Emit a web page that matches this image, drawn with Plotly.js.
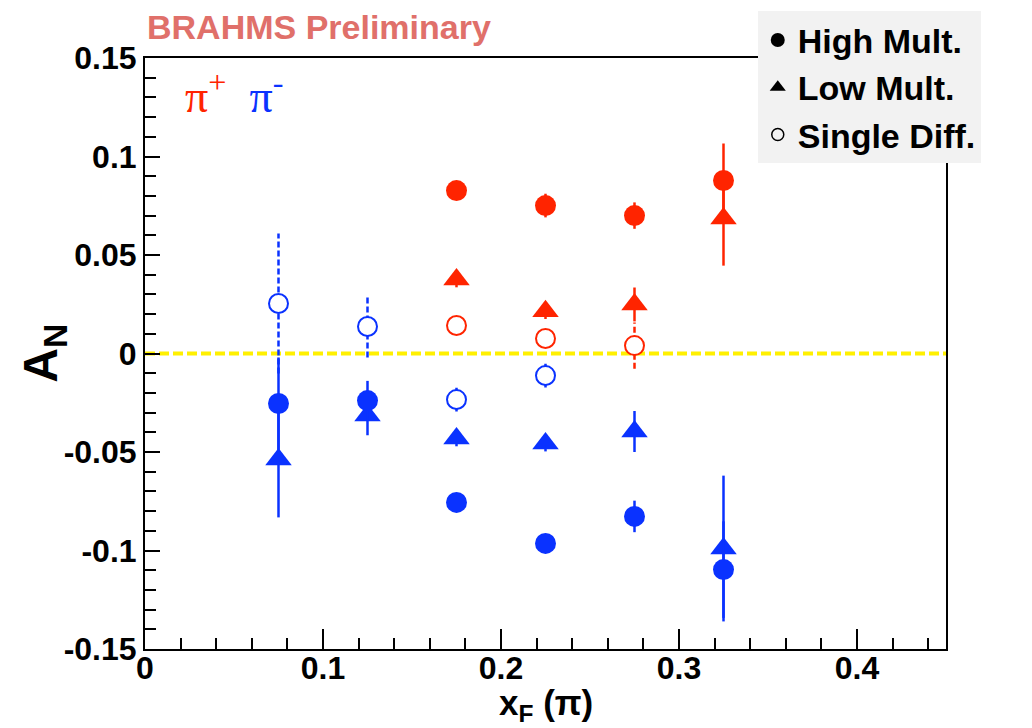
<!DOCTYPE html>
<html><head><meta charset="utf-8">
<script src="https://cdn.plot.ly/plotly-3.0.1.min.js"></script>
<style>html,body{margin:0;padding:0;background:#fff;} #chart{width:1032px;height:728px;}</style>
</head><body><div id="chart"></div>
<script>
// ---- data ----
const xF = [0.075, 0.125, 0.175, 0.225, 0.275, 0.325];

const piPlusHigh     = [null, null, 0.0827, 0.0751, 0.0700, 0.0878];
const piPlusHighErr  = [null, null, 0.004, 0.006, 0.0067, 0.0188];
const piPlusLow      = [null, null, 0.0376, 0.0215, 0.0249, 0.0685];
const piPlusLowErr   = [null, null, 0.004, 0.004, 0.0086, 0.0239];
const piPlusSD       = [null, null, 0.0142, 0.0076, 0.0040, null];
const piPlusSDErr    = [null, null, 0.004, 0.004, 0.0117, null];

const piMinusHigh    = [-0.0254, -0.0239, -0.0756, -0.0964, -0.0827, -0.1097];
const piMinusHighErr = [0.0234, 0.010, 0.004, 0.004, 0.008, 0.0245];
const piMinusLow     = [-0.0538, -0.0315, -0.0431, -0.0457, -0.0396, -0.0990];
const piMinusLowErr  = [0.0294, 0.010, 0.004, 0.004, 0.0104, 0.037];
const piMinusSD      = [0.0254, 0.0137, -0.0234, -0.0112, null, null];
const piMinusSDErr   = [0.0355, 0.0157, 0.006, 0.006, null, null];

const legendNames = ['High Mult.', 'Low Mult.', 'Single Diff.'];
const xTickVals = [0, 0.1, 0.2, 0.3, 0.4];
const xTickText = ['0', '0.1', '0.2', '0.3', '0.4'];
const yTickVals = [-0.15, -0.1, -0.05, 0, 0.05, 0.1, 0.15];
const yTickText = ['-0.15', '-0.1', '-0.05', '0', '0.05', '0.1', '0.15'];

// ---- style ----
const RED = '#ff2400';
const BLUE = '#0a32ff';
const FONT = 'Liberation Sans, Arial, Helvetica, sans-serif';

function errSegments(x, y, e) {
  const xs = [], ys = [];
  for (let i = 0; i < x.length; i++) {
    if (y[i] === null || e[i] === null) continue;
    xs.push(x[i], x[i], null);
    ys.push(y[i] - e[i], y[i] + e[i], null);
  }
  return {xs, ys};
}

function sdTraces(y, e, color) {
  const seg = errSegments(xF, y, e);
  return [
    {type: 'scatter', mode: 'lines', x: seg.xs, y: seg.ys, showlegend: false, hoverinfo: 'skip',
     line: {color: color, width: 2.5, dash: '6px,3px'}},
    {type: 'scatter', mode: 'markers', x: xF, y: y, showlegend: false,
     marker: {symbol: 'circle', size: 19, color: '#ffffff', line: {color: color, width: 2}}}
  ];
}

function solidTrace(y, e, color, symbol, size) {
  return {type: 'scatter', mode: 'markers', x: xF, y: y, showlegend: false,
    marker: {symbol: symbol, size: size, color: color, line: {width: 0}},
    error_y: {type: 'data', array: e, visible: true, color: color, thickness: 2.5, width: 0}};
}

const data = [];
// blue (pi-)
data.push(...sdTraces(piMinusSD, piMinusSDErr, BLUE));
data.push(solidTrace(piMinusLow, piMinusLowErr, BLUE, 'triangle-up', 23));
data.push(solidTrace(piMinusHigh, piMinusHighErr, BLUE, 'circle', 21));
// red (pi+)
data.push(...sdTraces(piPlusSD, piPlusSDErr, RED));
data.push(solidTrace(piPlusLow, piPlusLowErr, RED, 'triangle-up', 23));
data.push(solidTrace(piPlusHigh, piPlusHighErr, RED, 'circle', 21));

// legend entries (black symbols)
data.push({type: 'scatter', mode: 'markers', x: [null], y: [null], name: legendNames[0],
  marker: {symbol: 'circle', size: 14, color: '#000'}});
data.push({type: 'scatter', mode: 'markers', x: [null], y: [null], name: legendNames[1],
  marker: {symbol: 'triangle-up', size: 14, color: '#000'}});
data.push({type: 'scatter', mode: 'markers', x: [null], y: [null], name: legendNames[2],
  marker: {symbol: 'circle-open', size: 12, color: '#000', line: {width: 1.5}}});

const axisCommon = {
  ticks: 'inside', tickwidth: 2, tickcolor: '#000',
  showline: true, linewidth: 2, linecolor: '#000', mirror: true,
  showgrid: false, zeroline: false,
  tickfont: {family: FONT, size: 32, color: '#000', weight: 'bold'},
  tickmode: 'array'
};

const layout = {
  width: 1032, height: 728,
  margin: {l: 145, r: 86, t: 57, b: 79},
  paper_bgcolor: '#fff', plot_bgcolor: '#fff',
  showlegend: true,
  xaxis: Object.assign({}, axisCommon, {
    range: [0, 0.45], tickvals: xTickVals, ticktext: xTickText, ticklen: 20,
    ticklabelstandoff: -10,
    minor: {dtick: 0.02, tick0: 0, ticks: 'inside', ticklen: 11, tickwidth: 2, tickcolor: '#000', showgrid: false}
  }),
  yaxis: Object.assign({}, axisCommon, {
    range: [-0.15, 0.15], tickvals: yTickVals, ticktext: yTickText, ticklen: 15,
    minor: {dtick: 0.01, tick0: 0, ticks: 'inside', ticklen: 11, tickwidth: 2, tickcolor: '#000', showgrid: false}
  }),
  shapes: [{type: 'line', xref: 'paper', x0: 0, x1: 1, yref: 'y', y0: 0, y1: 0, layer: 'below',
    line: {color: '#fff000', width: 4, dash: '10px,4px'}}],
  annotations: [
    {xref: 'paper', yref: 'paper', x: 0, y: 1.052, xanchor: 'left', yanchor: 'middle', showarrow: false,
     text: 'BRAHMS Preliminary', font: {family: FONT, size: 34, color: '#e0706a', weight: 'bold'}},
    {xref: 'paper', yref: 'paper', x: 0.048, y: 0.94, xanchor: 'left', yanchor: 'middle', showarrow: false,
     text: '<span style="color:' + RED + '">π<sup>+</sup></span>&#160;&#160;<span style="color:' + BLUE + '">π<sup>-</sup></span>',
     font: {family: 'Liberation Serif, serif', size: 46}},
    {xref: 'paper', yref: 'paper', x: -0.127, y: 0.5, xanchor: 'center', yanchor: 'middle', showarrow: false,
     textangle: -90, text: 'A<sub>N</sub>', font: {family: FONT, size: 48, color: '#000', weight: 'bold'}},
    {xref: 'paper', yref: 'paper', x: 0.5, y: -0.094, xanchor: 'center', yanchor: 'middle', showarrow: false,
     text: 'x<sub>F</sub> (π)', font: {family: FONT, size: 35, color: '#000', weight: 'bold'}}
  ],
  legend: {
    x: 0.765, y: 1.077, xanchor: 'left', yanchor: 'top',
    bgcolor: '#f2f2f2', borderwidth: 0,
    font: {family: FONT, size: 34, color: '#000', weight: 'bold'},
    itemclick: false
  }
};

Plotly.newPlot('chart', data, layout, {staticPlot: true, displayModeBar: false});
</script>
</body></html>
